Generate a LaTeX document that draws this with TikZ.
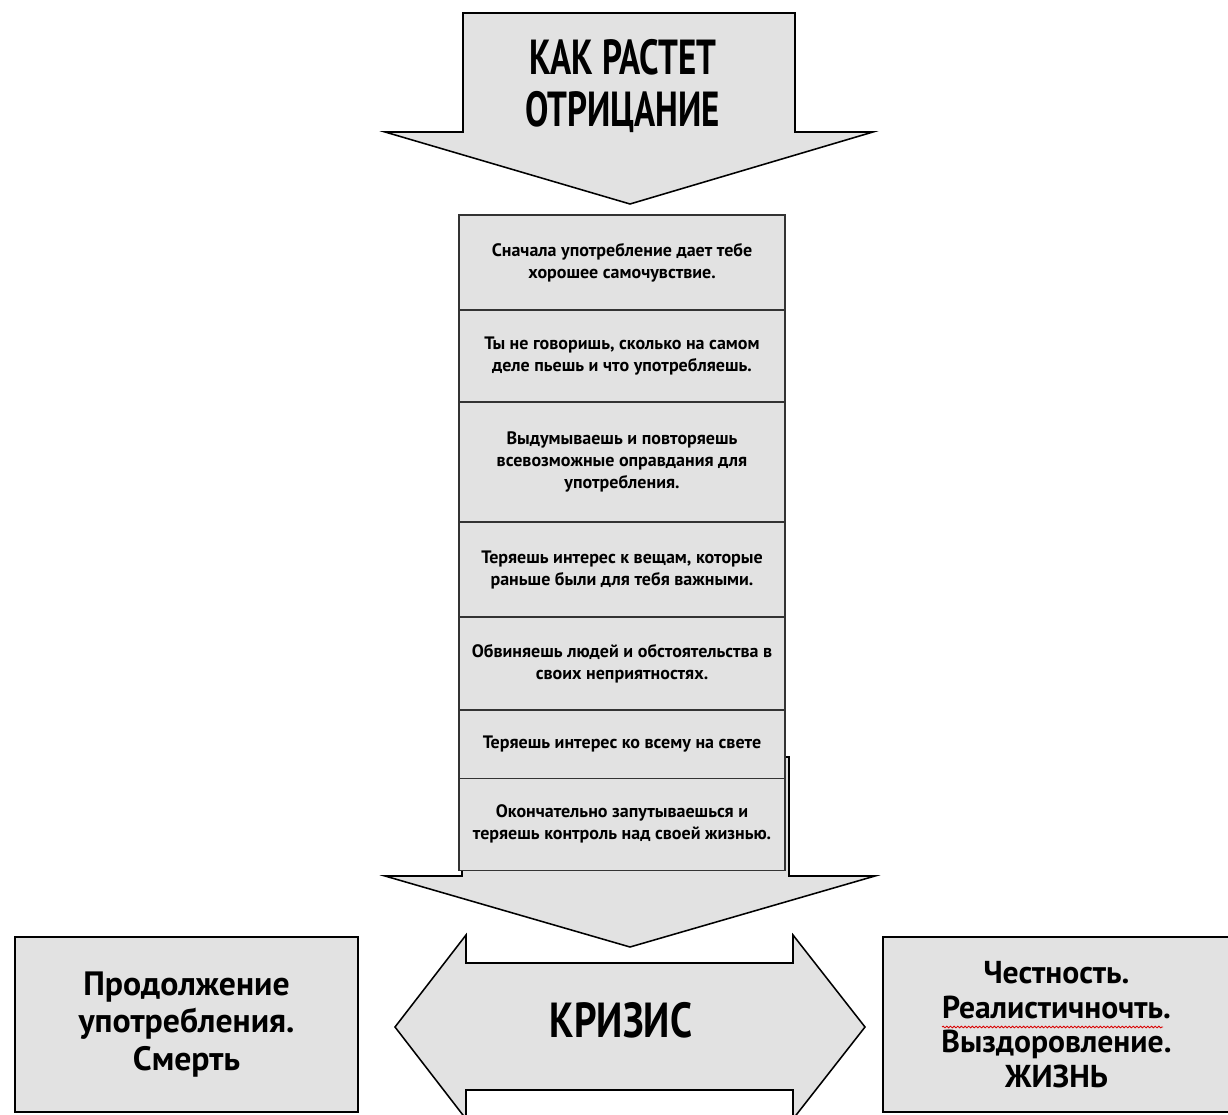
\documentclass[tikz,border=0pt]{standalone}
\usepackage{fontspec}
\setmainfont{PT Sans}
\usepackage{graphicx}
\usepackage{xcolor}
\usepackage{tikz}
\usetikzlibrary{positioning, decorations.pathmorphing}

\definecolor{shapegray}{HTML}{E2E2E2}
\newcommand{\narrow}[2]{\scalebox{#1}[1]{\begin{tabular}{@{}c@{}}#2\end{tabular}}}

\begin{document}
\begin{tikzpicture}[
            x=0.025cm, y=-0.025cm,
            bigshape/.style={draw=black, fill=shapegray, line width=1.1pt, line join=miter},
            stackbox/.style={draw=black!80, fill=shapegray, line width=0.9pt, minimum width=8.15cm,
                outer sep=0pt, inner sep=2pt, align=center, font=\fontsize{12.8}{15.6}\selectfont\bfseries},
            sidebox/.style={draw=black, fill=shapegray, line width=1.1pt, minimum height=4.375cm,
                outer sep=0pt, align=center},
            spell/.style={draw=red!85!black, line width=0.6pt, decorate,
                decoration={snake, amplitude=0.6pt, segment length=2.6pt}},
        ]
        \useasboundingbox (0,0) rectangle (1228,1115);

        % top arrow
        \draw[bigshape] (463,13) -- (795,13) -- (795,132) -- (873,132) -- (630,204)
            -- (385,132) -- (463,132) -- cycle;
        \node[font=\fontsize{35}{37}\selectfont\bfseries] (title) at (623,90)
            {\narrow{0.71}{КАК РАСТЕТ\\ОТРИЦАНИЕ}};

        % bottom arrow, behind the stack
        \draw[bigshape] (462,757) -- (789,757) -- (789,876) -- (875,876) -- (630,947)
            -- (385,876) -- (462,876) -- cycle;

        % stack of steps
        \node[stackbox, minimum height=2.375cm] (s1) at (622,262.5)
            {Сначала употребление дает тебе\\хорошее самочувствие.};
        \node[stackbox, minimum height=2.3cm, below=0pt of s1] (s2)
            {Ты не говоришь, сколько на самом\\деле пьешь и что употребляешь.};
        \node[stackbox, minimum height=3.0cm, below=0pt of s2] (s3)
            {Выдумываешь и повторяешь\\всевозможные оправдания для\\употребления.};
        \node[stackbox, minimum height=2.375cm, below=0pt of s3] (s4)
            {Теряешь интерес к вещам, которые\\раньше были для тебя важными.};
        \node[stackbox, minimum height=2.325cm, below=0pt of s4] (s5)
            {Обвиняешь людей и обстоятельства в\\своих неприятностях.};
        \node[stackbox, minimum height=1.7cm, below=0pt of s5] (s6)
            {Теряешь интерес ко всему на свете};
        \node[stackbox, minimum height=2.3cm, below=0pt of s6] (s7)
            {Окончательно запутываешься и\\теряешь контроль над своей жизнью.};

        % crisis
        \draw[bigshape] (395,1027) -- (466,935) -- (466,963) -- (793,963) -- (793,935)
            -- (865,1027) -- (793,1119) -- (793,1090) -- (466,1090) -- (466,1119) -- cycle;
        \node[font=\fontsize{35}{37}\selectfont\bfseries] (crisis) at (621,1027)
            {\narrow{0.8}{КРИЗИС}};

        % outcomes
        \node[sidebox, minimum width=8.575cm, font=\fontsize{24}{26.5}\selectfont\bfseries]
            (death) at (186.5,1024.5) {Продолжение\\употребления.\\Смерть};
        \node[sidebox, minimum width=8.675cm, font=\fontsize{22.5}{24.5}\selectfont\bfseries]
            (life) at (1056.5,1024.5) {Честность.\\Реалистичночть.\\Выздоровление.\\ЖИЗНЬ};
        \coordinate (sq1) at (942,1027);
        \coordinate (sq2) at (1163,1027);
        \draw[spell] (sq1) -- (sq2);
    \end{tikzpicture}
\end{document}
